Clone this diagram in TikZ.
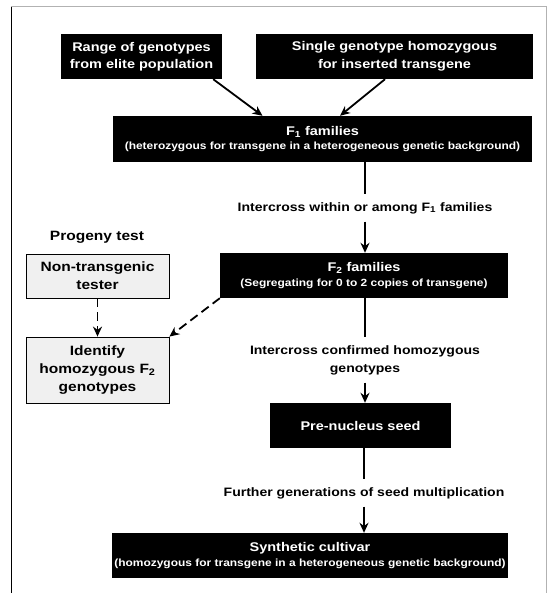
\documentclass[tikz,border=0pt]{standalone}
\usepackage{fontspec}
\setmainfont{Liberation Sans}[FakeStretch=1.15]
\usetikzlibrary{positioning,arrows.meta}

\newcommand{\boxsubfont}{\bfseries\fontsize{10.4}{12}\selectfont}

\tikzset{
  darkbox/.style={rectangle, fill=black, text=white, inner sep=2pt, align=center, font=\bfseries\fontsize{12.6}{17.5}\selectfont},
  testbox/.style={rectangle, draw=black, line width=0.8pt, fill=gray!12, inner sep=2pt, align=center, font=\bfseries\fontsize{13.5}{18}\selectfont},
  steplabel/.style={align=center, font=\bfseries\fontsize{12.2}{18}\selectfont, inner sep=0pt, outer sep=8pt},
  flow/.style={line width=1.8pt, -{Stealth[length=10pt,width=9pt]}},
  flowline/.style={line width=1.8pt},
  testflow/.style={flow, dash pattern=on 9pt off 5pt},
}

\begin{document}
\begin{tikzpicture}[x=1pt, y=-1pt]
        \useasboundingbox (0,0) rectangle (547,593);
        % frame, open at the bottom
        \draw[gray!60, line width=1pt] (11,7) -- (546,7) -- (546,593);
        \draw[black, line width=1.6pt] (11.5,7) -- (11.5,593);

        % parents
        \node[darkbox, minimum width=161pt, minimum height=45pt] (range) at (141.5,56.5) {Range of genotypes\\from elite population};
        \node[darkbox, minimum width=277pt, minimum height=45pt] (single) at (394.5,56.5) {Single genotype homozygous\\for inserted transgene};

        % F1 and F2
        \node[darkbox, minimum width=419pt, minimum height=46pt] (fone) at (322.5,139) {F\textsubscript{1} families\\[-3pt]{\boxsubfont (heterozygous for transgene in a heterogeneous genetic background)}};
        \node[steplabel] (crossone) at (365,208) {Intercross within or among F\textsubscript{1} families};
        \node[darkbox, minimum width=288pt, minimum height=45pt] (ftwo) at (364,275.5) {F\textsubscript{2} families\\[-3pt]{\boxsubfont (Segregating for 0 to 2 copies of transgene)}};

        % progeny test
        \node[steplabel, font=\bfseries\fontsize{13.5}{18}\selectfont] (progeny) at (97,237) {Progeny test};
        \node[testbox, minimum width=143pt, minimum height=44pt] (tester) at (97.5,276) {Non-transgenic\\tester};
        \node[testbox, minimum width=143pt, minimum height=66pt] (identify) at (97.5,370) {Identify\\homozygous F\textsubscript{2}\\genotypes};

        % seed
        \node[steplabel] (crosstwo) at (365,360) {Intercross confirmed homozygous\\genotypes};
        \node[darkbox, minimum width=181pt, minimum height=45pt] (prenuc) at (360.5,425.5) {Pre-nucleus seed};
        \node[steplabel] (further) at (364,493) {Further generations of seed multiplication};
        \node[darkbox, minimum width=396pt, minimum height=45pt] (synth) at (310,555.5) {Synthetic cultivar\\[-3pt]{\boxsubfont (homozygous for transgene in a heterogeneous genetic background)}};

        % connectors
        \draw[flow] ([xshift=-9pt]range.south east) -- ([xshift=-60pt]fone.north);
        \draw[flow] ([xshift=-9.5pt]single.south) -- ([xshift=17.5pt]fone.north);
        \draw[flowline] (fone.south -| crossone.north) -- (crossone.north);
        \draw[flow] (crossone.south) -- (ftwo.north -| crossone.south);
        \draw[flowline] (ftwo.south -| crosstwo.north) -- (crosstwo.north);
        \draw[flow] (crosstwo.south) -- (prenuc.north -| crosstwo.south);
        \draw[flowline] (prenuc.south -| further.north) -- (further.north);
        \draw[flow] (further.south) -- (synth.north -| further.south);
        \draw[testflow] (tester) -- (identify);
        \draw[testflow] (ftwo.south west) -- (identify.north east);
    \end{tikzpicture}
\end{document}
